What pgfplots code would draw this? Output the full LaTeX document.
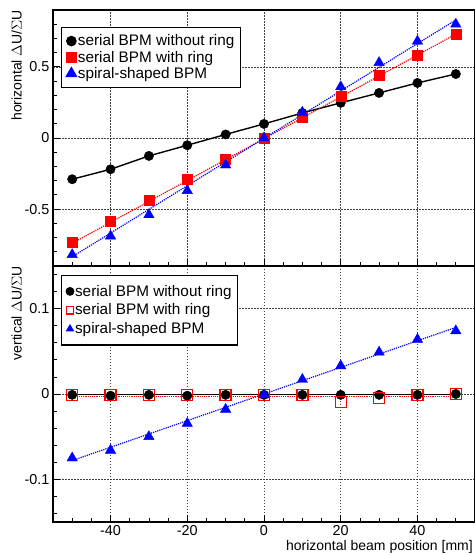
\documentclass[border=0pt]{standalone}
\usepackage{fontspec}
\setmainfont{Liberation Sans}
\usepackage{pgfplots}
\pgfplotsset{compat=1.18}

\newcommand\lbl{\fontsize{14bp}{16bp}\selectfont}
\newcommand\tkl{\fontsize{14.4bp}{16bp}\selectfont}

\pgfplotsset{
  bpmpanel/.style={
    scale only axis, width=422bp, height=256bp,
    xmin=-55, xmax=55,
    xtick={-40,-20,0,20,40},
    minor xtick={-50,-45,...,50},
    tick align=inside, tick pos=left,
    major tick length=7bp, minor tick length=3.5bp,
    every tick/.style={black, line width=0.8bp},
    axis line style={line width=1.3bp},
    grid=major,
    grid style={black!75, line width=0.5bp, dash pattern=on 1.5bp off 1.5bp},
    tick label style={font=\tkl},
    /pgf/number format/assume math mode=true,
    ylabel style={inner sep=0pt, anchor=south east, font=\lbl},
    legend cell align=left,
    legend image code/.code={\draw[#1] plot coordinates {(0bp,0bp)};},
    legend style={font=\fontsize{15.3bp}{17bp}\selectfont, draw=black,
      line width=1.2bp, anchor=north west, inner xsep=5bp,
      nodes={inner sep=1.3bp}},
    clip=false,
  },
  blk/.style={black, only marks, mark=*, mark size=4.7bp},
  redf/.style={red, only marks, mark=square*, mark size=5bp},
  bluet/.style={blue, only marks, mark=triangle*, mark size=6bp},
}

\begin{document}
\begin{tikzpicture}
% upper panel: horizontal response
\begin{axis}[bpmpanel, at={(53bp,289bp)}, anchor=south west,
  ymin=-0.9, ymax=0.9,
  ytick={-0.5,0,0.5}, yticklabels={-0.5,0,0.5},
  minor ytick={-0.8,-0.7,...,0.85},
  xticklabels={},
  ylabel={horizontal $\Delta$U/$\Sigma$U},
  ylabel style={at={(axis description cs:-0.0735,1)}},
  legend style={at={(axis description cs:0.018,0.934)}, inner ysep=6bp,
    row sep=1.1bp}]
  \addplot[black, line width=1.4bp, forget plot] coordinates {
    (-50,-0.290) (-40,-0.220) (-30,-0.126) (-20,-0.051) (-10,0.025)
    (0,0.099) (10,0.176) (20,0.247) (30,0.317) (40,0.387) (50,0.450)};
  \addplot[red, line width=1.2bp, densely dotted, forget plot] coordinates {
    (-50,-0.740) (50,0.730)};
  \addplot[blue, line width=1.2bp, densely dotted, forget plot] coordinates {
    (-50,-0.835) (50,0.830)};
  \addplot[blk] coordinates {
    (-50,-0.290) (-40,-0.220) (-30,-0.126) (-20,-0.051) (-10,0.025)
    (0,0.099) (10,0.176) (20,0.247) (30,0.317) (40,0.387) (50,0.450)};
  \addlegendentry{serial BPM without ring}
  \addplot[redf] coordinates {
    (-50,-0.730) (-40,-0.585) (-30,-0.440) (-20,-0.290) (-10,-0.148)
    (0,0.000) (10,0.147) (20,0.296) (30,0.440) (40,0.580) (50,0.730)};
  \addlegendentry{serial BPM with ring}
  \addplot[bluet] coordinates {
    (-50,-0.820) (-40,-0.690) (-30,-0.540) (-20,-0.370) (-10,-0.190)
    (0,0.000) (10,0.180) (20,0.360) (30,0.530) (40,0.680) (50,0.800)};
  \addlegendentry{spiral-shaped BPM}
\end{axis}
% lower panel: vertical response
\begin{axis}[bpmpanel, at={(53bp,33bp)}, anchor=south west,
  ymin=-0.15, ymax=0.15,
  ytick={-0.1,0,0.1}, yticklabels={-0.1,0,0.1},
  minor ytick={-0.14,-0.12,...,0.145},
  xticklabels={-40,-20,0,20,40},
  ylabel={vertical $\Delta$U/$\Sigma$U},
  ylabel style={at={(axis description cs:-0.0735,1)}},
  xlabel={horizontal beam position [mm]},
  xlabel style={font=\lbl, inner sep=0pt, at={(axis description cs:1,0)},
    anchor=north east, yshift=-18bp, xshift=-2bp},
  legend style={at={(axis description cs:0.018,0.966)}, inner ysep=8.5bp,
    row sep=3.6bp},
  legend image code/.code={\draw[#1, mark size=3.8bp] plot coordinates {(0bp,0bp)};}]
  \addplot[black, line width=1.4bp, forget plot] coordinates {
    (-50,-0.0005) (50,-0.0005)};
  \addplot[red, line width=1.2bp, densely dotted, forget plot] coordinates {
    (-50,-0.0025) (50,-0.0025)};
  \addplot[blue, line width=1.2bp, densely dotted, forget plot] coordinates {
    (-50,-0.078) (50,0.078)};
  \addplot[blk] coordinates {
    (-50,-0.001) (-40,-0.002) (-30,-0.001) (-20,-0.002) (-10,-0.001)
    (0,-0.001) (10,-0.001) (20,-0.001) (30,-0.001) (40,-0.001) (50,0.000)};
  \addlegendentry{serial BPM without ring}
  \addplot[red, only marks, mark=square, mark size=5.5bp, line width=1.3bp] coordinates {
    (-50,-0.001) (-40,-0.001) (-30,-0.001) (-20,-0.001) (-10,-0.001)
    (0,-0.001) (10,-0.001) (20,-0.009) (30,-0.005) (40,-0.001) (50,0.000)};
  \addlegendentry{serial BPM with ring}
  \addplot[bluet] coordinates {
    (-50,-0.075) (-40,-0.066) (-30,-0.050) (-20,-0.0345) (-10,-0.018)
    (0,-0.001) (10,0.017) (20,0.033) (30,0.049) (40,0.064) (50,0.074)};
  \addlegendentry{spiral-shaped BPM}
\end{axis}
\pgfresetboundingbox
\path (0,0) rectangle (475bp,555bp);
\end{tikzpicture}
\end{document}
